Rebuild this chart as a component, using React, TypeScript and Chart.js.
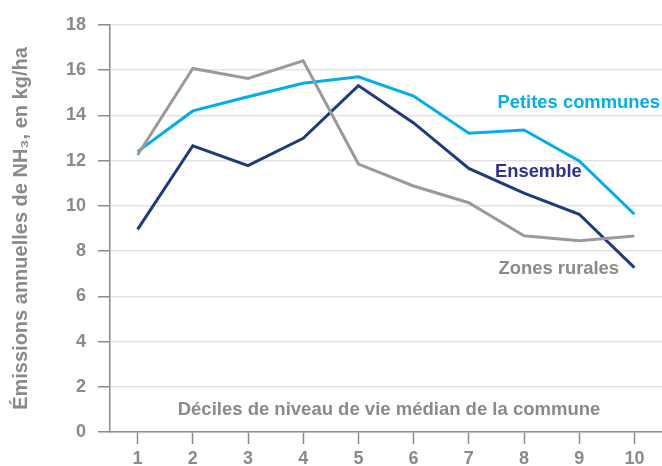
import React, { useEffect, useRef } from "react";
import { Chart, registerables } from "chart.js";

Chart.register(...registerables);

const deciles = ["1", "2", "3", "4", "5", "6", "7", "8", "9", "10"];
const petitesCommunes = [12.4, 14.2, 14.83, 15.42, 15.71, 14.86, 13.21, 13.36, 11.99, 9.63];
const ensemble = [8.96, 12.66, 11.78, 12.99, 15.32, 13.67, 11.66, 10.56, 9.63, 7.27];
const zonesRurales = [12.25, 16.08, 15.64, 16.42, 11.85, 10.88, 10.14, 8.68, 8.46, 8.67];

const yTitle = "Émissions annuelles de NH₃, en kg/ha";
const xTitle = "Déciles de niveau de vie médian de la commune";
const seriesLabels = ["Petites communes", "Ensemble", "Zones rurales"];

const CYAN = "#00aeef";
const NAVY = "#1f3a7d";
const NAVY_TEXT = "#2e3192";
const GRAY_LINE = "#9a9a9a";
const TEXT_GRAY = "#8a8a8a";
const FONT = "'Liberation Sans', Arial, sans-serif";

const labelPlugin = {
  id: "labels",
  afterDraw(chart: any) {
    const { ctx, chartArea, scales } = chart;
    const xs = scales.x;
    const ys = scales.y;
    const x0 = xs.getPixelForValue(0);
    const step = xs.getPixelForValue(1) - x0;
    const xAt = (i: number) => x0 + step * i;
    ctx.save();
    ctx.textBaseline = "middle";
    // x-axis title inside the plot
    ctx.font = `bold 18.5px ${FONT}`;
    ctx.fillStyle = TEXT_GRAY;
    ctx.textAlign = "center";
    ctx.fillText(xTitle, (chartArea.left + chartArea.right) / 2 + 3, ys.getPixelForValue(0.97));
    // series labels
    ctx.font = `bold 18.4px ${FONT}`;
    ctx.textAlign = "right";
    ctx.fillStyle = CYAN;
    ctx.fillText(seriesLabels[0], chartArea.right - 2, ys.getPixelForValue(14.55));
    ctx.textAlign = "center";
    ctx.fillStyle = NAVY_TEXT;
    ctx.fillText(seriesLabels[1], xAt(7.26), ys.getPixelForValue(11.51));
    ctx.fillStyle = TEXT_GRAY;
    ctx.fillText(seriesLabels[2], xAt(7.63), ys.getPixelForValue(7.21));
    ctx.restore();
  },
};

export default function App() {
  const ref = useRef<HTMLCanvasElement>(null);
  useEffect(() => {
    document.body.style.margin = "0";
    const mk = (data: number[], color: string) => ({
      data,
      borderColor: color,
      backgroundColor: color,
      borderWidth: 3,
      pointRadius: 0,
      tension: 0,
      fill: false,
    });
    const chart = new Chart(ref.current!, {
      type: "line",
      data: {
        labels: deciles,
        datasets: [mk(zonesRurales, GRAY_LINE), mk(petitesCommunes, CYAN), mk(ensemble, NAVY)],
      },
      options: {
        responsive: false,
        animation: false,
        layout: { padding: { top: 25, right: 0, left: 0, bottom: 0 } },
        plugins: { legend: { display: false }, tooltip: { enabled: false } },
        scales: {
          x: {
            offset: true,
            grid: { drawOnChartArea: false, drawTicks: true, tickLength: 12, tickColor: "#8a8a8a", tickWidth: 1.5 },
            border: { color: "#8a8a8a", width: 1.5 },
            ticks: { color: TEXT_GRAY, font: { family: FONT, size: 18, weight: "bold" }, padding: 4, maxRotation: 0 },
            afterFit: (s: any) => { s.height = 34; },
          },
          y: {
            min: 0,
            max: 18,
            ticks: { stepSize: 2, color: TEXT_GRAY, font: { family: FONT, size: 18, weight: "bold" }, padding: 12 },
            grid: { color: "#e3e3e3", lineWidth: 1.5, tickLength: 12, tickColor: "#8a8a8a", tickWidth: 1.5 },
            border: { color: "#8a8a8a", width: 1.5 },
            title: {
              display: true,
              text: yTitle,
              color: TEXT_GRAY,
              font: { family: FONT, size: 20, weight: "bold" },
              padding: { top: 9, bottom: 0 },
            },
            afterFit: (s: any) => { s.width = 110; },
          },
        },
      },
      plugins: [labelPlugin],
    });
    return () => chart.destroy();
  }, []);
  return (
    <div style={{ width: 662, height: 466 }}>
      <canvas ref={ref} width={662} height={466} style={{ display: "block" }} />
    </div>
  );
}
